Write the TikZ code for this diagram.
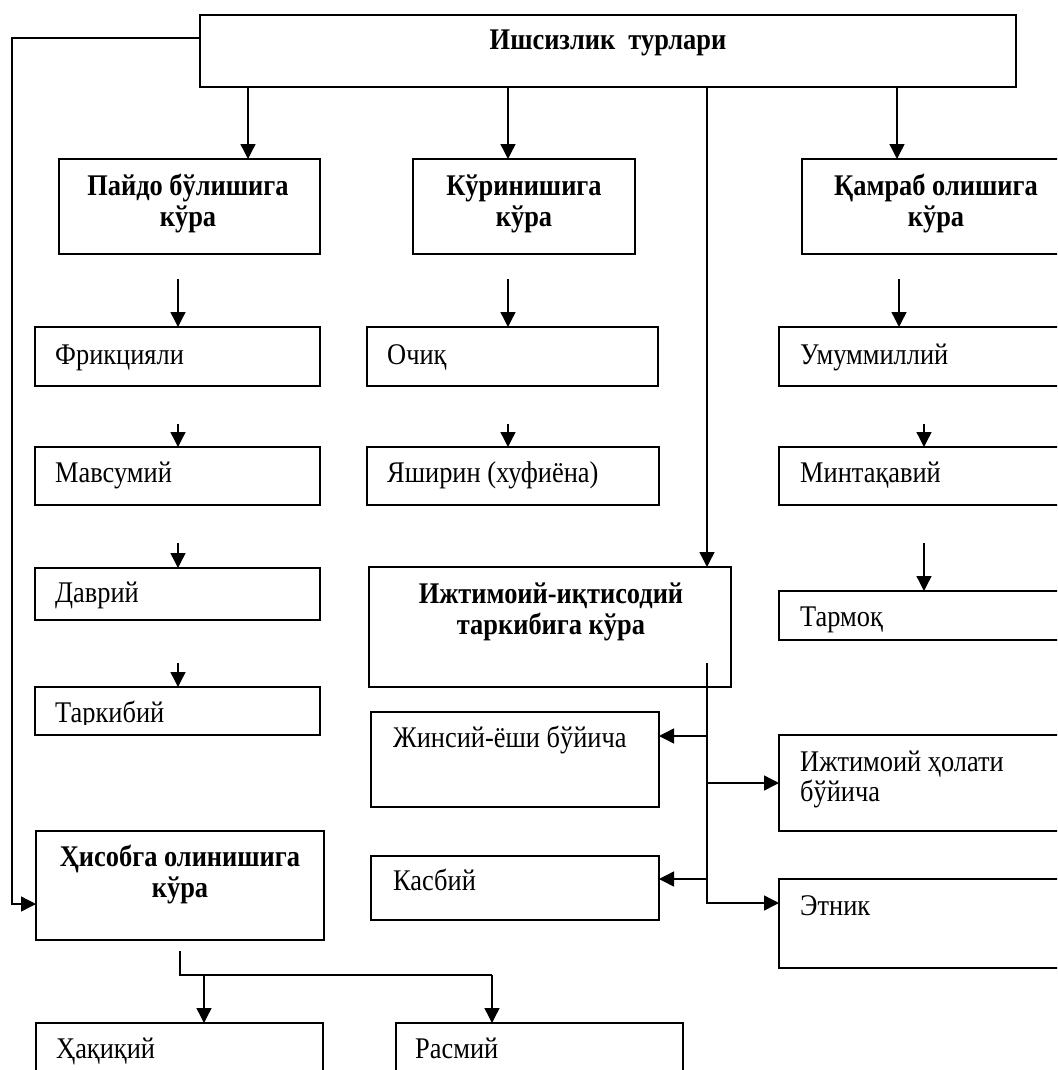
\documentclass[tikz,border=0pt]{standalone}
\usepackage{fontspec}
\setmainfont{Liberation Serif}[FakeStretch=0.88]
\usetikzlibrary{arrows.meta}
\newcommand{\mybox}[5]{\node[box, anchor=north west, minimum width={(#4)-(#2)}, minimum height={(#5)-(#3)}] (#1) at (#2,#3) {};}
\begin{document}
\begin{tikzpicture}[x=1pt,y=-1pt,
  box/.style={draw, line width=1.7pt, rectangle, inner sep=0pt, outer sep=0pt},
  arr/.style={line width=1.4pt, -{Triangle[length=15pt,width=15pt]}},
  ln/.style={line width=1.4pt},
  txt/.style={inner sep=0pt, font=\fontsize{30}{30}\selectfont, anchor=base west, align=left},
  btxt/.style={inner sep=0pt, font=\fontsize{30}{31}\selectfont\bfseries, anchor=base, align=center}]
\useasboundingbox (0,0) rectangle (1057,1070);
\clip (0,0) rectangle (1057,1070);

% boxes
\mybox{top}{200}{15}{1016}{87}
\mybox{pay}{59}{159}{320}{254}
\mybox{kur}{413}{159}{635}{254}
\mybox{qam}{802}{159}{1072}{254}
\mybox{fr}{35}{327}{320}{386}
\mybox{mav}{35}{447}{320}{505}
\mybox{dav}{35}{568}{320}{620}
\mybox{tar}{35}{687}{320}{735}
\mybox{och}{367}{327}{658}{386}
\mybox{yash}{367}{447}{659}{505}
\mybox{ijt}{369}{567}{731}{687}
\mybox{umu}{779}{327}{1072}{386}
\mybox{min}{779}{447}{1072}{505}
\mybox{tarm}{779}{591}{1072}{640}
\mybox{jins}{371}{712}{659}{807}
\mybox{hol}{779}{735}{1072}{831}
\mybox{kas}{371}{856}{659}{920}
\mybox{etn}{779}{879}{1072}{968}
\mybox{his}{36}{831}{324}{940}
\mybox{haq}{36}{1023}{323}{1100}
\mybox{ras}{396}{1023}{683}{1100}

% texts (for two-line nodes the base anchor is the last line)
\node[btxt] (topT) at (608,50) {Ишсизлик\ \ турлари};
\node[btxt] (payT) at (188,226) {Пайдо бўлишига\\кўра};
\node[btxt] (kurT) at (524,226) {Кўринишига\\кўра};
\node[btxt] (qamT) at (936,226) {Қамраб олишига\\кўра};
\node[btxt] (ijtT) at (551,634) {Ижтимоий-иқтисодий\\таркибига кўра};
\node[btxt] (hisT) at (180,897) {Ҳисобга олинишига\\кўра};
\node[txt] (frT) at (55,364) {Фрикцияли};
\node[txt] (mavT) at (55,482) {Мавсумий};
\node[txt] (davT) at (55,602) {Даврий};
\begin{scope}
\clip (30,690) rectangle (330,724);
\node[txt] (tarT) at (55,722) {Таркибий};
\end{scope}
\node[txt] (ochT) at (387,364) {Очиқ};
\node[txt] (yashT) at (387,482) {Яширин (хуфиёна)};
\node[txt] (umuT) at (800,364) {Умуммиллий};
\node[txt] (minT) at (800,482) {Минтақавий};
\node[txt] (tarmT) at (800,626) {Тармоқ};
\node[txt] (jinsT) at (393,747) {Жинсий-ёши бўйича};
\node[txt] (holT) at (800,801) {Ижтимоий ҳолати\\бўйича};
\node[txt] (kasT) at (393,890) {Касбий};
\node[txt] (etnT) at (800,915) {Этник};
\node[txt] (haqT) at (56,1058) {Ҳақиқий};
\node[txt] (rasT) at (415,1058) {Расмий};

% connectors from the top box
\coordinate (cA) at (248,0);
\coordinate (cB) at (508,0);
\coordinate (cC) at (707,0);
\coordinate (cD) at (897,0);
\draw[arr] (top.south -| cA) -- (pay.north -| cA);
\draw[arr] (top.south -| cB) -- (kur.north -| cB);
\draw[arr] (top.south -| cC) -- (ijt.north -| cC);
\draw[arr] (top.south -| cD) -- (qam.north -| cD);
\coordinate (L1) at (12,38);
\coordinate (L2) at (12,904);
\draw[arr] (top.west |- L1) -- (L1) -- (L2) -- (his.west |- L2);

% small arrows
\coordinate (s1) at (178,279);
\coordinate (s2) at (178,424);
\coordinate (s3) at (178,543);
\coordinate (s4) at (178,663);
\coordinate (s5) at (508,279);
\coordinate (s6) at (508,424);
\coordinate (s7) at (899,279);
\coordinate (s8) at (924,424);
\coordinate (s9) at (924,543);
\draw[arr] (s1) -- (fr.north -| s1);
\draw[arr] (s2) -- (mav.north -| s2);
\draw[arr] (s3) -- (dav.north -| s3);
\draw[arr] (s4) -- (tar.north -| s4);
\draw[arr] (s5) -- (och.north -| s5);
\draw[arr] (s6) -- (yash.north -| s6);
\draw[arr] (s7) -- (umu.north -| s7);
\draw[arr] (s8) -- (min.north -| s8);
\draw[arr] (s9) -- (tarm.north -| s9);

% branch of the social-economic box
\coordinate (b0) at (707,663);
\coordinate (b1) at (707,736);
\coordinate (b2) at (707,783);
\coordinate (b3) at (707,879);
\coordinate (b4) at (707,903);
\draw[arr] (b0) -- (b4) -- (etn.west |- b4);
\draw[arr] (b1) -- (jins.east |- b1);
\draw[arr] (b2) -- (hol.west |- b2);
\draw[arr] (b3) -- (kas.east |- b3);

% branch of the accounting box
\coordinate (h0) at (180,951);
\coordinate (h1) at (180,975);
\coordinate (h2) at (492,975);
\coordinate (h3) at (204,975);
\draw[ln] (h0) -- (h1) -- (h2);
\draw[arr] (h3) -- (haq.north -| h3);
\draw[arr] (h2) -- (ras.north -| h2);
\end{tikzpicture}
\end{document}
